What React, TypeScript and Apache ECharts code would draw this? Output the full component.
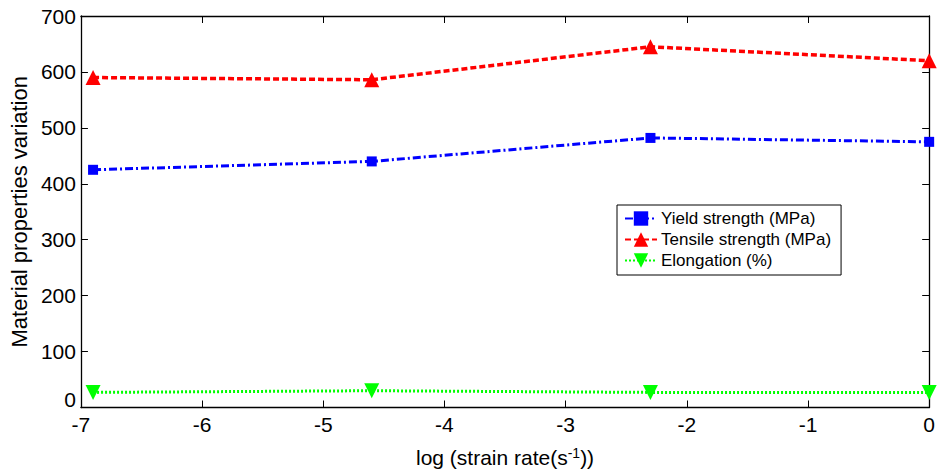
import React, { useEffect, useRef } from "react";
import * as echarts from "echarts";

const strainRateLog = [-6.9, -4.6, -2.3, 0];
const yieldStrength = [425, 440, 482, 475];
const tensileStrength = [590, 586, 645, 620];
const elongation = [27, 30, 27, 27];
const xTicks = [-7, -6, -5, -4, -3, -2, -1, 0];
const seriesNames = ["Yield strength (MPa)", "Tensile strength (MPa)", "Elongation (%)"];

const FONT = "Liberation Sans, Arial, sans-serif";

export default function App() {
  const ref = useRef<HTMLDivElement>(null);
  useEffect(() => {
    if (!ref.current) return;
    const chart = echarts.init(ref.current, null, { renderer: "svg" });
    const pair = (vals: number[]) => strainRateLog.map((x, i) => [x, vals[i]]);
    const axisLine = { show: true, onZero: false, lineStyle: { color: "#000", width: 1.3 } };
    const tick = { show: true, inside: true, length: 7, lineStyle: { color: "#000", width: 1 } };
    chart.setOption({
      animation: false,
      backgroundColor: "#fff",
      grid: { left: 77, right: 5, top: 16, bottom: 63, containLabel: false },
      xAxis: [
        {
          type: "value",
          min: xTicks[0],
          max: xTicks[xTicks.length - 1],
          interval: 1,
          axisLine,
          axisTick: tick,
          splitLine: { show: false },
          axisLabel: { color: "#000", fontSize: 21, fontFamily: FONT, margin: 6 },
          name: "log (strain rate(s{sup|-1}))",
          nameLocation: "middle",
          nameGap: 38,
          nameTextStyle: {
            color: "#000",
            fontSize: 21,
            fontFamily: FONT,
            rich: { sup: { fontSize: 14, verticalAlign: "top", padding: [0, 0, 10, 0], fontFamily: FONT, color: "#000" } },
          },
        },
        {
          type: "value",
          position: "top",
          min: xTicks[0],
          max: xTicks[xTicks.length - 1],
          interval: 1,
          axisLine,
          axisTick: tick,
          axisLabel: { show: false },
          splitLine: { show: false },
        },
      ],
      yAxis: [
        {
          type: "value",
          min: 0,
          max: 700,
          interval: 100,
          axisLine,
          axisTick: tick,
          splitLine: { show: false },
          axisLabel: {
            color: "#000",
            fontSize: 21,
            fontFamily: FONT,
            margin: 5,
            formatter: (v: number) => (v === 0 ? "{z|0}" : String(v)),
            rich: { z: { fontSize: 21, fontFamily: FONT, color: "#000", padding: [0, 0, 16, 0] } },
          },
          name: "Material properties variation",
          nameLocation: "middle",
          nameGap: 48,
          nameTextStyle: { color: "#000", fontSize: 22, fontFamily: FONT },
        },
        {
          type: "value",
          position: "right",
          min: 0,
          max: 700,
          interval: 100,
          axisLine,
          axisTick: tick,
          axisLabel: { show: false },
          splitLine: { show: false },
        },
      ],
      legend: {
        show: true,
        orient: "vertical",
        left: 617,
        top: 205,
        data: seriesNames,
        backgroundColor: "#fff",
        borderColor: "#000",
        borderWidth: 1,
        borderRadius: 0,
        padding: [5, 10, 6, 7],
        itemGap: 4,
        itemWidth: 32,
        itemHeight: 18,
        textStyle: { color: "#000", fontSize: 17, fontFamily: FONT, padding: [0, 0, 0, -1] },
      },
      series: [
        {
          name: seriesNames[0],
          type: "line",
          data: pair(yieldStrength),
          symbol: "rect",
          symbolSize: 10,
          clip: false,
          itemStyle: { color: "#0000ff" },
          lineStyle: { color: "#0000ff", width: 3, type: [8, 3, 2, 3] },
          z: 3,
        },
        {
          name: seriesNames[1],
          type: "line",
          data: pair(tensileStrength),
          symbol: "triangle",
          symbolSize: 15,
          clip: false,
          itemStyle: { color: "#ff0000" },
          lineStyle: { color: "#ff0000", width: 3.5, type: [6, 3] },
          z: 3,
        },
        {
          name: seriesNames[2],
          type: "line",
          data: pair(elongation),
          symbol: "triangle",
          symbolRotate: 180,
          symbolSize: 15,
          clip: false,
          itemStyle: { color: "#00ff00" },
          lineStyle: { color: "#00ff00", width: 3, type: [2, 2] },
          z: 3,
        },
      ],
    });
    return () => chart.dispose();
  }, []);
  return (
    <div
      ref={ref}
      style={{ position: "fixed", left: 0, top: 0, width: 938, height: 473, background: "#fff" }}
    />
  );
}
